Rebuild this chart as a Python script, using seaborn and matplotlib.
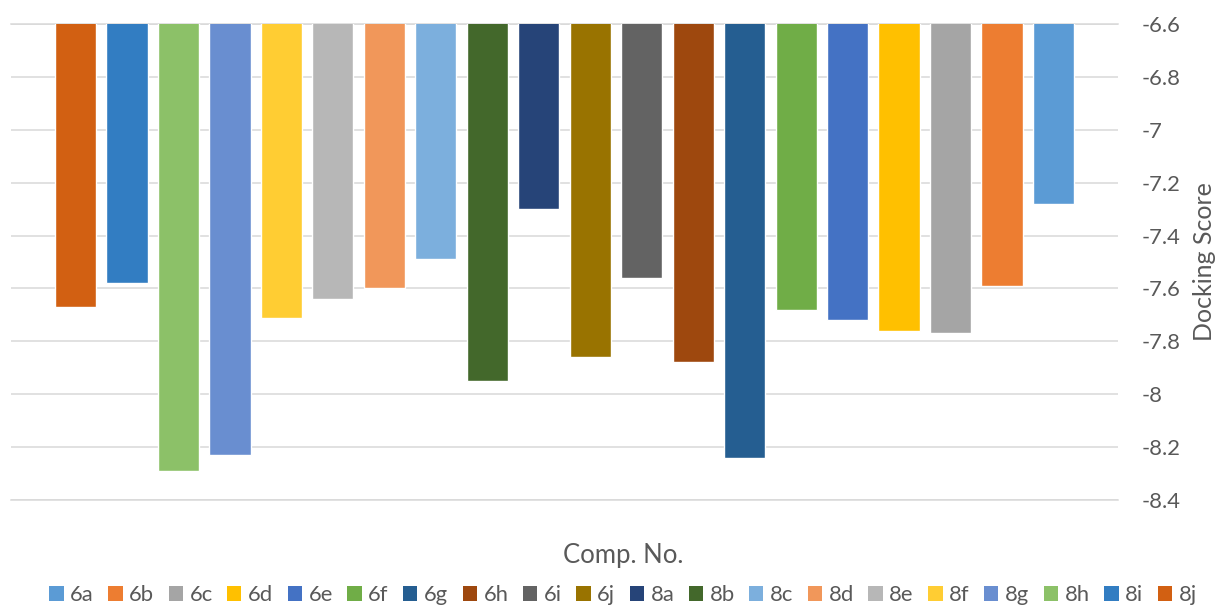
import matplotlib
matplotlib.use("Agg")
import matplotlib.pyplot as plt
import seaborn as sns
import pandas as pd
from matplotlib.patches import Patch
from matplotlib.ticker import FixedLocator, FuncFormatter

# Compounds and their docking scores
compounds = ["6a", "6b", "6c", "6d", "6e", "6f", "6g", "6h", "6i", "6j",
             "8a", "8b", "8c", "8d", "8e", "8f", "8g", "8h", "8i", "8j"]
scores = [-7.28, -7.59, -7.77, -7.76, -7.72, -7.68, -8.24, -7.88, -7.56, -7.86,
          -7.30, -7.95, -7.49, -7.60, -7.64, -7.71, -8.23, -8.29, -7.58, -7.67]
colors = ["#5B9BD5", "#ED7D31", "#A5A5A5", "#FFC000", "#4472C4", "#70AD47",
          "#255E91", "#9E480E", "#636363", "#997300", "#264478", "#43682B",
          "#7CAFDD", "#F1975A", "#B7B7B7", "#FFCD33", "#698ED0", "#8CC168",
          "#327DC2", "#D26012"]
y_ticks = [-6.6, -6.8, -7.0, -7.2, -7.4, -7.6, -7.8, -8.0, -8.2, -8.4]

sns.set_theme(style="white")
plt.rcParams["font.family"] = ["Lato", "DejaVu Sans"]

text_color = "#595959"
grid_color = "#D9D9D9"

df = pd.DataFrame({"comp": compounds, "score": scores})
palette = dict(zip(compounds, colors))

fig = plt.figure(figsize=(12.2, 6.06), dpi=100)
W, H = 1220, 606
ax = fig.add_axes([11 / W, 1 - 500 / H, (1118 - 11) / W, (500 - 24) / H])

sns.barplot(data=df, x="comp", y="score", hue="comp", order=compounds,
            hue_order=compounds, palette=palette, saturation=1, width=0.8,
            errorbar=None, dodge=False, legend=False, ax=ax, zorder=2)

# Categories run right-to-left, value axis on the right
n = len(compounds)
ax.set_xlim(n - 1 + 1.253, -1.253)
ax.set_ylim(-8.4, -6.6)

ax.yaxis.tick_right()
ax.yaxis.set_major_locator(FixedLocator(y_ticks))
ax.yaxis.set_major_formatter(FuncFormatter(lambda v, p: f"{v:g}"))
ax.tick_params(axis="y", length=0, pad=17, labelsize=15.8, labelcolor=text_color)
for lab in ax.get_yticklabels():
    lab.set_horizontalalignment("left")
ax.set_xticks([])

ax.grid(axis="y", color=grid_color, linewidth=1.1, zorder=0)
ax.set_axisbelow(True)
for side in ["left", "right"]:
    ax.spines[side].set_visible(False)
for side in ["top", "bottom"]:
    ax.spines[side].set_color(grid_color)
    ax.spines[side].set_linewidth(1.1)
    ax.spines[side].set_zorder(0.5)

ax.set_xlabel("Comp. No.", fontsize=18.5, color=text_color, va="center", ha="center")
ax.xaxis.set_label_coords((623.5 - 11) / 1107, (500 - 556) / 476)
ax.set_ylabel("Docking Score", fontsize=18, color=text_color, rotation=90,
              va="center", ha="center")
ax.yaxis.set_label_position("right")
ax.yaxis.set_label_coords((1205 - 11) / 1107, 0.5)
ax.yaxis.label.set_verticalalignment("center")
ax.yaxis.label.set_horizontalalignment("center")

# Legend: one square swatch per compound
handles = [Patch(facecolor=palette[c], edgecolor="none", label=c) for c in compounds]
fig.legend(handles=handles, loc="center", bbox_to_anchor=(623 / W, 1 - 595 / H),
           ncol=n, frameon=False, fontsize=15.8, labelcolor=text_color,
           handlelength=0.65, handleheight=0.65, handletextpad=0.3,
           columnspacing=0.66, borderaxespad=0, borderpad=0)

fig.savefig("out.png", dpi=100)
